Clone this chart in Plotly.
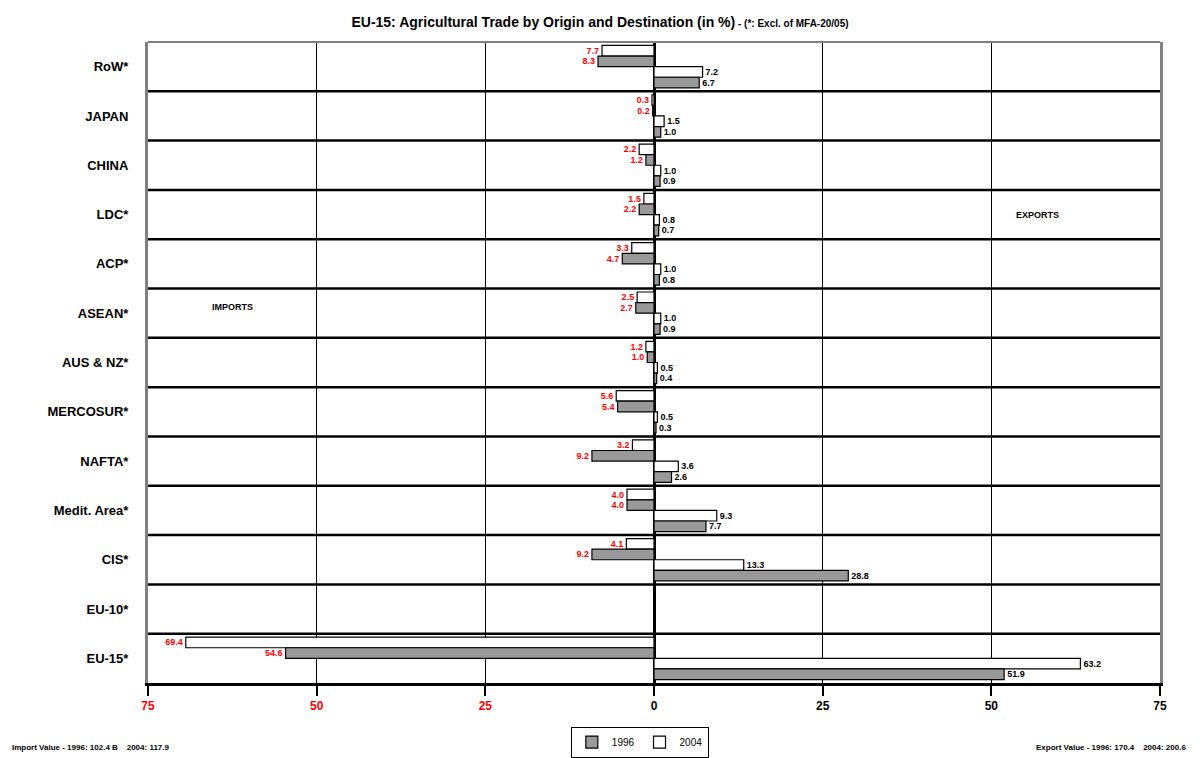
import plotly.graph_objects as go

categories = ["RoW*", "JAPAN", "CHINA", "LDC*", "ACP*", "ASEAN*", "AUS & NZ*",
              "MERCOSUR*", "NAFTA*", "Medit. Area*", "CIS*", "EU-10*", "EU-15*"]
imp_2004 = [7.7, 0.3, 2.2, 1.5, 3.3, 2.5, 1.2, 5.6, 3.2, 4.0, 4.1, 0.0, 69.4]
imp_1996 = [8.3, 0.2, 1.2, 2.2, 4.7, 2.7, 1.0, 5.4, 9.2, 4.0, 9.2, 0.0, 54.6]
exp_2004 = [7.2, 1.5, 1.0, 0.8, 1.0, 1.0, 0.5, 0.5, 3.6, 9.3, 13.3, 0.0, 63.2]
exp_1996 = [6.7, 1.0, 0.9, 0.7, 0.8, 0.9, 0.4, 0.3, 2.6, 7.7, 28.8, 0.0, 51.9]
tick_vals = [-75, -50, -25, 0, 25, 50, 75]
tick_text = ['<span style="color:#FF0000">75</span>', '<span style="color:#FF0000">50</span>',
             '<span style="color:#FF0000">25</span>', '0', '25', '50', '75']

FONT = "Arial, Liberation Sans, sans-serif"
GRAY = "#999999"

def lab(vals):
    return [("" if v == 0 else f"{v:.1f}") for v in vals]

fig = go.Figure()
series = [
    ("2004", [-v for v in imp_2004], imp_2004, "white", "#FF0000", "g2004", True, 2),
    ("1996", [-v for v in imp_1996], imp_1996, GRAY, "#FF0000", "g1996", True, 1),
    ("2004", exp_2004, exp_2004, "white", "black", "g2004", False, 2),
    ("1996", exp_1996, exp_1996, GRAY, "black", "g1996", False, 1),
]
for name, xv, raw, fill, tcol, grp, show, rank in series:
    fig.add_trace(go.Bar(
        y=categories, x=xv, orientation="h", name=name,
        marker=dict(color=fill, line=dict(color="black", width=1.2)),
        text=lab(raw), textposition="outside", cliponaxis=False,
        textfont=dict(family=FONT, size=9, color=tcol, weight="bold"),
        legendgroup=grp, showlegend=show, legendrank=rank,
    ))

shapes = []
for i in range(len(categories) - 1):
    shapes.append(dict(type="line", xref="paper", x0=0, x1=1, yref="y",
                       y0=i + 0.5, y1=i + 0.5, line=dict(color="black", width=2.5),
                       layer="below"))
shapes.append(dict(type="line", xref="paper", x0=0, x1=1, yref="paper",
                   y0=1, y1=1, line=dict(color="#808080", width=2)))

fig.update_layout(
    width=1200, height=758,
    paper_bgcolor="white", plot_bgcolor="white",
    margin=dict(l=148, r=40, t=42, b=75, autoexpand=False),
    barmode="group", bargap=0.14, bargroupgap=0,
    font=dict(family=FONT, color="black"),
    title=dict(
        text="<b>EU-15: Agricultural Trade by Origin and Destination (in %)</b>"
             "<span style='font-size:10px'><b> - (*: Excl. of MFA-20/05)</b></span>",
        x=0.5, xanchor="center", y=0.971, yanchor="middle",
        font=dict(size=14, family=FONT, color="black")),
    xaxis=dict(range=[-75, 75], tickvals=tick_vals, ticktext=tick_text, automargin=False,
               showgrid=True, gridcolor="black", gridwidth=1,
               zeroline=True, zerolinecolor="black", zerolinewidth=3,
               showline=True, linecolor="black", linewidth=3,
               ticks="outside", ticklen=10, tickwidth=2, tickcolor="black",
               tickfont=dict(size=12, family=FONT, color="black", weight="bold"),
               fixedrange=True),
    yaxis=dict(autorange="reversed", showgrid=False, showline=True, automargin=False,
               linecolor="#808080", linewidth=3, mirror=True,
               ticks="outside", ticklen=14, tickcolor="rgba(0,0,0,0)",
               tickfont=dict(size=13, family=FONT, color="black", weight="bold")),
    legend=dict(orientation="h", x=0.486, xanchor="center", y=-0.068, yanchor="top",
                bordercolor="black", borderwidth=1, bgcolor="white",
                font=dict(size=10, family=FONT), traceorder="normal"),
    shapes=shapes,
    annotations=[
        dict(text="<b>IMPORTS</b>", xref="paper", yref="paper", x=0.061, y=0.587,
             showarrow=False, font=dict(size=9, family=FONT)),
        dict(text="<b>EXPORTS</b>", xref="paper", yref="paper", x=0.902, y=0.741,
             showarrow=False, font=dict(size=9, family=FONT)),
        dict(text="<b>Import Value - 1996: 102.4 B    2004: 117.9</b>", xref="paper", yref="paper",
             x=-0.136, y=-0.1, xanchor="left", yanchor="middle", showarrow=False,
             font=dict(size=8, family=FONT)),
        dict(text="<b>Export Value - 1996: 170.4    2004: 200.6</b>", xref="paper", yref="paper",
             x=1.028, y=-0.1, xanchor="right", yanchor="middle", showarrow=False,
             font=dict(size=8, family=FONT)),
    ],
)
fig.write_html("out.html", config={"displayModeBar": False},
               post_script="document.body.style.margin='0px';document.body.style.overflow='hidden';")
